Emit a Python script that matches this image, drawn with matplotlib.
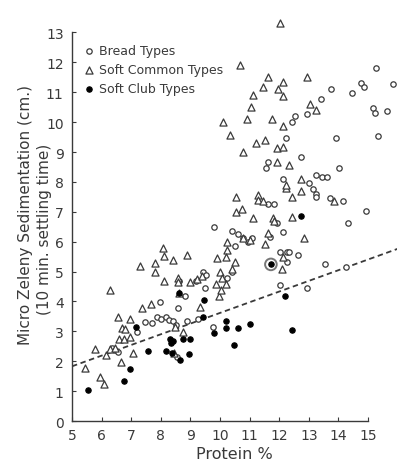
import matplotlib
matplotlib.use("Agg")
import matplotlib.pyplot as plt

# Bread types (open circles)
bread_x = [6.35, 6.44, 6.55, 7.20, 7.45, 7.70, 7.87, 8.02, 8.19, 8.27, 8.41, 8.51,
           7.98, 8.58, 8.87, 9.27, 9.77, 8.56, 8.82, 9.50, 8.60, 9.44, 9.53, 9.19,
           10.23, 10.40, 9.81, 10.39, 10.60, 10.51, 10.79, 10.93, 11.07, 11.70, 11.61,
           11.84, 11.91, 12.14, 12.03, 12.25, 12.34, 12.25, 12.65, 12.03, 12.93, 13.55,
           14.26, 14.34, 14.93, 13.72, 14.14, 13.02, 13.13, 13.24, 13.24, 13.24, 13.44,
           13.63, 14.03, 12.74, 11.63, 11.56, 12.23, 13.92, 15.35, 12.14, 12.53, 12.95,
           12.42, 13.43, 13.74, 14.45, 14.75, 14.87, 15.26, 15.86, 15.16, 15.24, 15.65]
bread_y = [2.43, 2.38, 2.30, 2.97, 3.32, 3.27, 3.47, 3.41, 3.47, 3.38, 3.36, 3.21,
           3.99, 3.77, 3.33, 3.41, 3.16, 2.13, 4.19, 4.46, 4.70, 5.00, 4.88, 4.69,
           4.77, 4.97, 6.48, 6.37, 6.25, 5.86, 6.11, 5.98, 6.11, 6.17, 7.26,
           7.26, 6.62, 6.34, 5.64, 5.64, 5.66, 5.33, 5.55, 4.56, 4.44, 5.25,
           5.14, 6.64, 7.03, 7.46, 7.35, 7.95, 7.76, 7.59, 7.48, 8.24, 8.17,
           8.15, 8.46, 8.84, 8.65, 8.48, 9.47, 9.47, 9.54, 8.09, 10.19, 10.27,
           9.99, 10.79, 11.10, 10.97, 11.31, 11.19, 11.80, 11.27, 10.47, 10.29, 10.38]

# Soft common types (open triangles)
common_x = [5.45, 5.77, 5.93, 6.07, 6.15, 6.28, 6.45, 6.27, 6.55, 6.58, 6.67, 6.68,
            6.80, 6.75, 6.97, 6.97, 7.06, 7.31, 7.36, 7.68, 7.79, 7.79, 8.10, 8.09,
            8.40, 8.10, 8.59, 8.59, 8.61, 8.87, 8.99, 9.21, 9.38, 9.31, 8.48, 8.74,
            8.46, 9.91, 10.23, 10.23, 10.21, 10.50, 10.42, 10.00, 10.06, 9.87, 10.20,
            9.95, 10.03, 10.54, 10.54, 10.75, 11.13, 11.30, 11.30, 11.44, 10.77, 11.03,
            11.52, 11.63, 11.80, 11.84, 12.42, 12.84, 12.11, 12.12, 13.86, 12.42, 12.73,
            12.23, 12.23, 12.73, 11.91, 12.34, 10.77, 11.22, 11.53, 11.91, 12.12, 12.12,
            10.34, 10.09, 10.92, 11.75, 11.04, 11.13, 11.44, 11.95, 12.14, 12.14, 11.63,
            12.95, 13.04, 13.24, 10.68, 12.03]
common_y = [1.79, 2.41, 1.48, 1.24, 2.20, 2.42, 2.44, 4.38, 3.49, 2.76, 1.96, 3.12,
            3.08, 2.76, 2.80, 3.41, 2.26, 5.20, 3.77, 3.91, 5.28, 4.97, 5.51, 5.78,
            5.39, 4.67, 4.77, 4.64, 4.27, 5.55, 4.66, 4.75, 4.86, 3.82, 3.13, 2.98,
            2.26, 5.47, 5.98, 5.72, 5.50, 5.32, 5.10, 4.97, 4.78, 4.58, 4.60,
            4.19, 4.38, 7.48, 7.00, 7.09, 6.78, 7.57, 7.39, 7.37, 6.14, 6.05,
            5.92, 6.28, 6.78, 6.70, 6.83, 6.11, 5.08, 5.50, 7.37, 7.50, 7.70,
            7.78, 7.89, 8.09, 8.68, 8.57, 8.99, 9.30, 9.40, 9.15, 9.17, 9.88,
            9.57, 10.01, 10.12, 10.10, 10.51, 10.91, 11.19, 11.10, 10.88, 11.33, 11.52,
            11.52, 10.60, 10.41, 11.91, 13.31]

# Soft club types (filled circles)
club_x = [5.53, 6.75, 6.97, 7.16, 7.57, 8.19, 8.38, 8.64, 8.32, 8.41, 8.36, 8.76,
          8.99, 8.96, 8.61, 9.47, 9.41, 10.20, 10.20, 10.62, 11.01, 10.48, 9.80,
          11.72, 12.19, 12.42, 12.74]
club_y = [1.04, 1.35, 1.74, 3.16, 2.33, 2.35, 2.26, 2.04, 2.74, 2.69, 2.60, 2.74,
          2.74, 2.24, 4.27, 4.06, 3.47, 3.33, 3.10, 3.11, 3.24, 2.54, 2.94,
          5.24, 4.17, 3.03, 6.87]

# ringed point
ring_x = [11.72]
ring_y = [5.24]

# dashed regression line
line_x = [5.0, 16.0]
line_y = [1.83, 5.76]

ink = "#3a3a3a"

fig = plt.figure(figsize=(3.97, 4.64), dpi=100)
ax = fig.add_axes([0.1814, 0.0905, 0.82, 0.876])

ax.plot(line_x, line_y, linestyle=(0, (3, 2)), color=ink, lw=1.3, zorder=1)

ax.scatter(bread_x, bread_y, s=15, marker='o', facecolors='white',
           edgecolors=ink, linewidths=0.9, label='Bread Types', zorder=3)
ax.scatter(common_x, common_y, s=26, marker='^', facecolors='white',
           edgecolors=ink, linewidths=0.9, label='Soft Common Types', zorder=3)
ax.scatter(club_x, club_y, s=15, marker='o', facecolors='black',
           edgecolors='black', linewidths=0.8, label='Soft Club Types', zorder=4)
ax.scatter(ring_x, ring_y, s=70, marker='o', facecolors='none',
           edgecolors='#777777', linewidths=1.4, zorder=4)

ax.set_xlim(5, 16)
ax.set_ylim(0, 13.6)
ax.set_xticks(range(5, 16))
ax.set_yticks(range(0, 14))
ax.spines['top'].set_visible(False)
ax.spines['right'].set_visible(False)
ax.spines['left'].set_bounds(0, 13)
ax.spines['bottom'].set_bounds(5, 15)
for sp in ('left', 'bottom'):
    ax.spines[sp].set_color(ink)
    ax.spines[sp].set_linewidth(1.0)
ax.tick_params(direction='in', length=3, width=0.8, color=ink,
               labelsize=10, labelcolor=ink)
ax.tick_params(axis='y', pad=6)
ax.tick_params(axis='x', pad=5)

ax.set_xlabel('Protein %', fontsize=11.5, color=ink, labelpad=3)
fig.text(0.063, 0.537, 'Micro Zeleny Sedimentation (cm.)', rotation=90,
         ha='center', va='center', fontsize=11, color=ink)
fig.text(0.111, 0.506, '(10 min. settling time)', rotation=90,
         ha='center', va='center', fontsize=11, color=ink)

ax.legend(loc='upper left', bbox_to_anchor=(0.02, 0.94), frameon=False,
          handlelength=0.8, handletextpad=0.4, labelspacing=0.5,
          fontsize=9, labelcolor=ink, borderaxespad=0)

fig.savefig('out.png', dpi=100)
